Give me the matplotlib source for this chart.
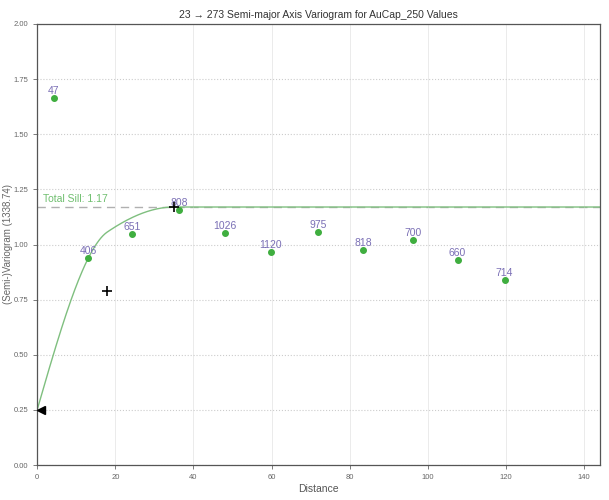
import numpy as np
import matplotlib
matplotlib.use("Agg")
import matplotlib.pyplot as plt

plt.rcParams['font.family'] = ['Liberation Sans', 'DejaVu Sans']

# experimental variogram points (lag distance, semivariance, pair count)
lags = [4.3, 13.0, 24.3, 36.4, 48.0, 59.8, 71.8, 83.5, 96.1, 107.6, 119.6]
gamma = [1.664, 0.939, 1.048, 1.156, 1.052, 0.966, 1.057, 0.975, 1.020, 0.930, 0.839]
pairs = [47, 406, 651, 808, 1026, 1120, 975, 818, 700, 660, 714]

# nested spherical model
nugget = 0.25
sills = [0.54, 0.38]
ranges = [18.0, 35.0]
total_sill = 1.17


def spherical(h, c, a):
    r = np.clip(h / a, 0, 1)
    return c * (1.5 * r - 0.5 * r ** 3)


fig = plt.figure(figsize=(6.09, 5.0), dpi=100)
ax = fig.add_axes([0.061, 0.07, 0.924, 0.882])

h = np.linspace(0, 144, 600)
model = nugget + sum(spherical(h, c, a) for c, a in zip(sills, ranges))

ax.axhline(total_sill, color='#b0b0b0', linestyle=(0, (6, 4)), linewidth=1.0, zorder=1)
ax.plot(h, model, color='#7fbf7f', linewidth=1.0, zorder=2)
ax.scatter(lags, gamma, color='#3fae3f', s=16, zorder=3)

for x, y, n in zip(lags, gamma, pairs):
    ax.text(x, y + 0.008, str(n), ha='center', va='bottom', fontsize=7.5, color='#7a6fb5')

# structure markers
cum = nugget
for c, a in zip(sills, ranges):
    cum += c
    ax.plot(a, cum, marker='+', color='black', markersize=7, mew=1.2, zorder=4)
ax.plot(0.9, nugget, marker='<', color='black', markersize=6, zorder=4, clip_on=False)

ax.text(1.5, total_sill + 0.012, 'Total Sill: 1.17', color='#6fbf6f', fontsize=7.5,
        ha='left', va='bottom')

ax.set_xlim(0, 144)
ax.set_ylim(0, 2.0)
ax.set_xticks(np.arange(0, 141, 20))
ax.set_yticks(np.arange(0, 2.01, 0.25))
ax.yaxis.set_major_formatter(matplotlib.ticker.FormatStrFormatter('%.2f'))
ax.tick_params(labelsize=5.5, colors='#666666', length=3, width=0.6)
ax.grid(axis='x', color='#ebebeb', linewidth=0.7)
ax.grid(axis='y', color='#cccccc', linestyle=':', linewidth=0.8)
for s in ax.spines.values():
    s.set_color('#555555')
    s.set_linewidth(0.9)

ax.set_xlabel('Distance', fontsize=7.5, color='#555555', labelpad=2)
ax.set_ylabel('(Semi-)Variogram (1338.74)', fontsize=7, color='#666666')
ax.yaxis.set_label_coords(-0.043, 0.5)
ax.set_title('23 \u2192 273 Semi-major Axis Variogram for AuCap_250 Values', fontsize=7.5,
             color='#333333', pad=4)

fig.savefig('out.png', dpi=100)
